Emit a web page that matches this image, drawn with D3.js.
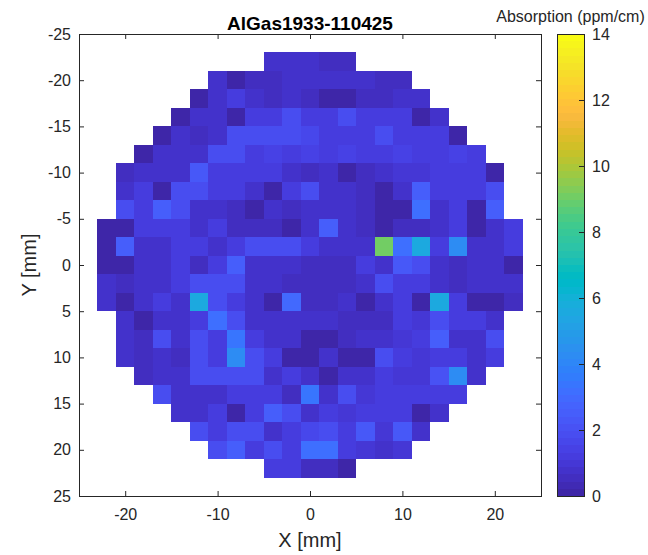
<!DOCTYPE html>
<html><head><meta charset="utf-8">
<script src="https://cdn.jsdelivr.net/npm/d3@7"></script>
<style>
body{margin:0;background:#fff}
svg text{font-family:"Liberation Sans",Arial,Helvetica,sans-serif;fill:#262626}
</style></head>
<body><svg id="chart" width="648" height="555"></svg>
<script>
// ---------- data ----------
const title = "AlGas1933-110425";
const colorbarLabel = "Absorption (ppm/cm)";
const xLabel = "X [mm]";
const yLabel = "Y [mm]";
const xCenters = [-22,-20,-18,-16,-14,-12,-10,-8,-6,-4,-2,0,2,4,6,8,10,12,14,16,18,20,22];
const yCenters = [-22,-20,-18,-16,-14,-12,-10,-8,-6,-4,-2,0,2,4,6,8,10,12,14,16,18,20,22];
const xTicks = [-20,-10,0,10,20];
const yTicks = [-25,-20,-15,-10,-5,0,5,10,15,20,25];
const cTicks = [0,2,4,6,8,10,12,14];
const cRange = [0,14];
const N = null;
// absorption (ppm/cm), one row per y centre (top to bottom), one column per x centre
const absorption = [
 [N,N,N,N,N,N,N,N,N,0.8,0.8,0.8,0.5,0.5,N,N,N,N,N,N,N,N,N],
 [N,N,N,N,N,N,0.8,0.2,0.5,0.5,0.8,0.8,0.8,0.8,0.8,0.5,0.5,N,N,N,N,N,N],
 [N,N,N,N,N,0.2,0.8,1.3,0.8,0.5,0.8,0.5,0.2,0.2,0.5,0.5,0.8,0.8,N,N,N,N,N],
 [N,N,N,N,0.2,0.8,0.8,0.2,1.3,1.3,1.9,1.3,1.3,1.9,1.3,1.3,1.3,0.2,0.8,N,N,N,N],
 [N,N,N,0.2,0.8,0.5,0.8,1.9,1.9,1.9,1.9,1.6,1.3,1.3,1.3,1.9,1.3,1.3,1.3,0.2,N,N,N],
 [N,N,0.2,0.8,0.8,0.8,1.9,1.9,1.3,1.4,1.3,1.5,1.3,1.4,1.3,1.3,1.4,1.3,1.3,1.4,1.3,N,N],
 [N,0.5,0.8,0.8,0.8,2.2,1.3,1.3,1.3,1.3,0.8,0.5,0.8,0.2,0.5,0.8,1.0,1.0,1.3,1.3,1.3,0.2,N],
 [N,0.8,1.3,0.2,1.9,1.9,1.3,1.3,0.8,0.2,1.3,1.9,0.8,0.8,0.5,0.2,0.8,2.6,1.3,1.3,1.3,1.9,N],
 [N,1.9,1.3,2.6,1.9,0.8,0.8,0.5,0.2,0.8,0.5,0.8,0.8,0.8,0.5,0.2,0.2,3.2,0.8,1.3,0.2,2.6,N],
 [0.2,0.2,1.3,1.3,1.3,0.8,1.3,0.5,0.5,0.5,0.2,0.8,2.6,0.8,0.5,0.2,0.5,0.5,0.8,1.3,0.2,0.8,1.3],
 [0.2,2.6,0.8,0.8,1.3,1.3,0.8,1.3,1.9,1.9,1.9,1.3,0.8,0.8,0.8,9.1,3.2,5.6,1.3,4.2,0.8,0.8,1.3],
 [0.2,0.2,0.8,0.8,1.3,0.5,1.3,2.6,0.8,0.8,0.8,0.5,0.5,0.5,1.3,0.8,2.4,1.9,0.8,0.5,0.8,0.8,0.2],
 [0.8,0.5,0.8,0.8,1.3,1.9,1.9,1.9,0.8,0.8,0.5,0.5,0.5,0.5,0.8,1.9,1.3,1.3,0.8,0.5,0.8,0.8,0.8],
 [0.8,0.2,0.8,1.3,0.8,5.6,1.9,1.3,0.8,0.2,3.0,0.5,0.5,0.8,0.2,0.8,1.3,0.2,5.6,1.3,0.2,0.2,0.5],
 [N,0.8,0.2,0.8,0.8,1.3,3.2,1.9,0.8,0.8,0.8,0.8,0.8,0.5,0.5,0.5,1.3,1.0,1.9,1.3,1.3,0.8,N],
 [N,0.8,0.5,1.9,0.8,1.9,1.3,3.3,1.3,0.8,0.8,0.2,0.2,0.5,0.8,0.8,1.0,1.3,2.6,0.8,0.8,1.9,N],
 [N,0.8,0.5,0.8,0.5,1.9,1.3,4.2,1.9,1.3,0.2,0.2,0.8,0.2,0.2,1.9,1.3,1.0,1.3,1.3,0.8,1.3,N],
 [N,N,0.5,0.8,0.8,1.9,1.9,1.9,1.9,0.8,1.3,0.8,0.2,0.8,0.8,1.3,1.0,1.0,2.0,4.2,0.8,N,N],
 [N,N,N,1.9,0.8,0.8,0.8,1.3,1.3,1.3,0.5,3.4,0.8,1.9,1.0,1.3,1.3,1.3,1.3,1.3,N,N,N],
 [N,N,N,N,0.8,0.8,1.3,0.2,1.3,2.6,1.9,0.8,1.3,1.0,1.3,1.3,1.3,0.2,0.8,N,N,N,N],
 [N,N,N,N,N,1.9,1.3,1.9,1.9,0.8,1.3,1.6,1.9,1.3,2.4,1.0,2.4,0.8,N,N,N,N,N],
 [N,N,N,N,N,N,1.9,2.6,1.3,1.9,1.3,3.2,3.2,1.3,1.0,0.8,1.0,N,N,N,N,N,N],
 [N,N,N,N,N,N,N,N,N,1.3,1.3,0.5,0.5,0.2,N,N,N,N,N,N,N,N,N]
];

// ---------- colormap (MATLAB parula, 64 levels) ----------
const parula = [[0.2422,0.1504,0.6603],[0.2504,0.1650,0.7076],[0.2578,0.1818,0.7511],[0.2647,0.1978,0.7952],[0.2706,0.2147,0.8364],[0.2751,0.2342,0.8710],[0.2783,0.2559,0.8991],[0.2803,0.2782,0.9221],[0.2813,0.3006,0.9414],[0.2810,0.3228,0.9579],[0.2795,0.3447,0.9717],[0.2760,0.3667,0.9829],[0.2699,0.3892,0.9906],[0.2602,0.4123,0.9952],[0.2440,0.4358,0.9988],[0.2206,0.4603,0.9973],[0.1963,0.4847,0.9892],[0.1834,0.5074,0.9798],[0.1786,0.5289,0.9682],[0.1764,0.5499,0.9520],[0.1687,0.5703,0.9359],[0.1540,0.5902,0.9218],[0.1460,0.6091,0.9079],[0.1380,0.6276,0.8973],[0.1248,0.6459,0.8883],[0.1113,0.6635,0.8763],[0.0952,0.6798,0.8598],[0.0689,0.6948,0.8394],[0.0297,0.7082,0.8163],[0.0036,0.7203,0.7917],[0.0067,0.7312,0.7660],[0.0433,0.7411,0.7394],[0.0964,0.7500,0.7120],[0.1408,0.7584,0.6842],[0.1717,0.7670,0.6554],[0.1938,0.7758,0.6251],[0.2161,0.7843,0.5923],[0.2470,0.7918,0.5567],[0.2906,0.7973,0.5188],[0.3406,0.8008,0.4789],[0.3909,0.8029,0.4354],[0.4456,0.8024,0.3909],[0.5044,0.7993,0.3480],[0.5616,0.7942,0.3045],[0.6174,0.7876,0.2612],[0.6720,0.7793,0.2227],[0.7242,0.7698,0.1910],[0.7738,0.7598,0.1646],[0.8203,0.7498,0.1535],[0.8634,0.7406,0.1596],[0.9035,0.7330,0.1774],[0.9393,0.7288,0.2100],[0.9728,0.7298,0.2394],[0.9956,0.7434,0.2371],[0.9970,0.7659,0.2199],[0.9952,0.7893,0.2028],[0.9892,0.8136,0.1885],[0.9786,0.8386,0.1766],[0.9676,0.8639,0.1643],[0.9610,0.8890,0.1537],[0.9597,0.9135,0.1423],[0.9628,0.9373,0.1265],[0.9691,0.9606,0.1064],[0.9769,0.9839,0.0805]]
  .map(c => d3.rgb(c[0]*255, c[1]*255, c[2]*255).formatHex());

// ---------- layout ----------
const svg = d3.select("#chart");
const L = 79, R = 541, T = 34, B = 496;
const axisColor = "#262626";
const xs = d3.scaleLinear().domain([-25,25]).range([L,R]);
const ys = d3.scaleLinear().domain([-25,25]).range([T,B]);
const color = d3.scaleQuantize().domain(cRange).range(parula);
const half = 1; // half cell pitch in mm
const fmt = d => String(d); // plain hyphen-minus like the reference

// cells
const cells = [];
absorption.forEach((row, j) => row.forEach((v, i) => {
  if (v !== null) cells.push({x: xCenters[i], y: yCenters[j], v});
}));
svg.append("g").attr("shape-rendering","crispEdges")
  .selectAll("rect").data(cells).join("rect")
  .attr("x", d => xs(d.x - half))
  .attr("y", d => ys(d.y - half))
  .attr("width", d => xs(d.x + half) - xs(d.x - half))
  .attr("height", d => ys(d.y + half) - ys(d.y - half))
  .attr("fill", d => color(d.v));

// axes
const fs = 16, tl = 5;
function styleAxis(g){
  g.selectAll("path.domain").remove();
  g.selectAll(".tick line").attr("stroke", axisColor);
  g.selectAll(".tick text").attr("fill", axisColor).style("font-size", fs+"px")
    .style("font-family","'Liberation Sans',Arial,Helvetica,sans-serif");
}
svg.append("g").attr("transform",`translate(0,${B})`)
  .call(d3.axisBottom(xs).tickValues(xTicks).tickSize(-tl).tickPadding(13).tickFormat(fmt))
  .call(styleAxis);
svg.append("g").attr("transform",`translate(0,${T})`)
  .call(d3.axisTop(xs).tickValues(xTicks).tickSize(-tl).tickFormat(""))
  .call(styleAxis);
svg.append("g").attr("transform",`translate(${L},0)`)
  .call(d3.axisLeft(ys).tickValues(yTicks).tickSize(-tl).tickPadding(8).tickFormat(fmt))
  .call(styleAxis);
svg.append("g").attr("transform",`translate(${R},0)`)
  .call(d3.axisRight(ys).tickValues(yTicks).tickSize(-tl).tickFormat(""))
  .call(styleAxis);
svg.append("rect").attr("x",L+0.5).attr("y",T+0.5).attr("width",R-L).attr("height",B-T)
  .attr("fill","none").attr("stroke",axisColor).attr("stroke-width",1);

// labels
svg.append("text").attr("x",(L+R)/2).attr("y",30).attr("text-anchor","middle")
  .style("font-size","19px").style("font-weight","bold").style("fill","#000").text(title);
svg.append("text").attr("x",(L+R)/2).attr("y",547).attr("text-anchor","middle")
  .style("font-size","20px").text(xLabel);
svg.append("text").attr("transform",`translate(36,${(T+B)/2}) rotate(-90)`).attr("text-anchor","middle")
  .style("font-size","20px").text(yLabel);

// colorbar
const CL = 557, CR = 584;
const cs = d3.scaleLinear().domain(cRange).range([B,T]);
const nLev = parula.length;
const step = (cRange[1]-cRange[0]) / nLev;
svg.append("g").attr("shape-rendering","crispEdges")
  .selectAll("rect").data(parula).join("rect")
  .attr("x", CL).attr("width", CR-CL)
  .attr("y", (c,k) => cs(cRange[0] + (k+1)*step))
  .attr("height", (c,k) => cs(cRange[0] + k*step) - cs(cRange[0] + (k+1)*step))
  .attr("fill", c => c);
svg.append("g").attr("transform",`translate(${CR},0)`)
  .call(d3.axisRight(cs).tickValues(cTicks).tickSize(-tl).tickPadding(8).tickFormat(fmt))
  .call(styleAxis);
svg.append("rect").attr("x",CL+0.5).attr("y",T+0.5).attr("width",CR-CL).attr("height",B-T)
  .attr("fill","none").attr("stroke",axisColor).attr("stroke-width",1);
svg.append("text").attr("x",(CL+CR)/2).attr("y",22).attr("text-anchor","middle")
  .style("font-size","16px").text(colorbarLabel);
</script></body></html>
